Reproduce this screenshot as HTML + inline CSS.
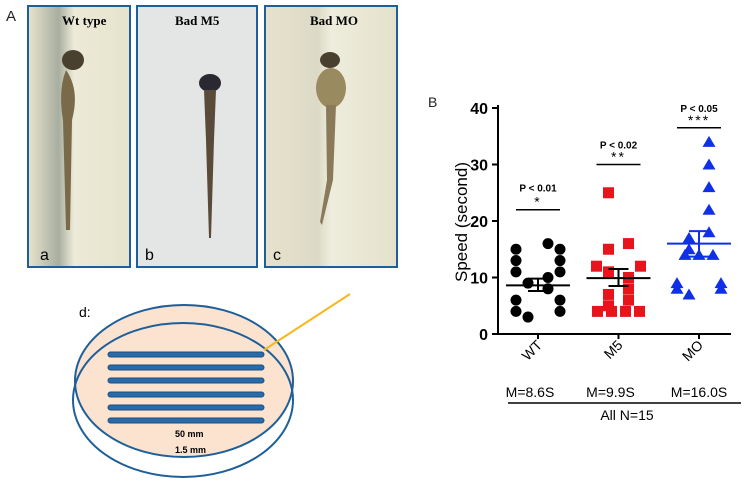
<!DOCTYPE html>
<html><head><meta charset="utf-8"><style>
body{margin:0;width:747px;height:486px;background:#fff;overflow:hidden;font-family:"Liberation Sans",sans-serif}
svg{position:absolute;left:0;top:0}
</style></head><body>
<svg width="747" height="486">
<defs>
<linearGradient id="ga" x1="0" x2="1"><stop offset="0" stop-color="#e8e4cc"/><stop offset="0.3" stop-color="#a8aea0"/><stop offset="0.45" stop-color="#ecead8"/><stop offset="1" stop-color="#e6e3cc"/></linearGradient>
<linearGradient id="gc" x1="0" x2="1"><stop offset="0" stop-color="#e6e2cc"/><stop offset="0.4" stop-color="#dcdac6"/><stop offset="0.5" stop-color="#eeecdc"/><stop offset="1" stop-color="#e4e2cc"/></linearGradient>
</defs>
<text x="6" y="21" font-size="15" fill="#222">A</text>
<g>
<rect x="28" y="6" width="102" height="261" fill="url(#ga)" stroke="#1f5f99" stroke-width="2"/>
<ellipse cx="73" cy="60" rx="11" ry="10" fill="#4a4030"/><path d="M66,70 Q80,90 72,120 L70,230 L66,230 L63,120 Q58,90 66,70Z" fill="#7a6a4a"/>
<text x="62" y="25" font-size="13" font-weight="bold" font-family="Liberation Serif,serif">Wt  type</text>
<text x="40" y="260" font-size="16">a</text></g>
<g>
<rect x="137" y="6" width="120" height="261" fill="#e4e6e6" stroke="#1f5f99" stroke-width="2"/>
<ellipse cx="210" cy="83" rx="11" ry="9" fill="#2a2830"/><path d="M204,90 L216,90 L214,140 L211,238 L209,238 L206,140Z" fill="#5a4a3a"/>
<text x="175" y="25" font-size="13" font-weight="bold" font-family="Liberation Serif,serif">Bad M5</text>
<text x="145" y="260" font-size="16">b</text></g>
<g>
<rect x="265" y="6" width="132" height="261" fill="url(#gc)" stroke="#1f5f99" stroke-width="2"/>
<ellipse cx="330" cy="60" rx="10" ry="8" fill="#4a4030"/><ellipse cx="331" cy="88" rx="15" ry="20" fill="#9a8a60"/><path d="M326,105 L336,105 L333,180 L322,225 L320,222 L327,180Z" fill="#8a7a5a"/>
<text x="310" y="25" font-size="13" font-weight="bold" font-family="Liberation Serif,serif">Bad MO</text>
<text x="273" y="260" font-size="16">c</text></g>
<g>
<ellipse cx="184" cy="381" rx="109" ry="76" fill="#fbe3d0" stroke="#1f5f99" stroke-width="2"/>
<ellipse cx="183" cy="400" rx="110" ry="77" fill="none" stroke="#1f5f99" stroke-width="2"/>
<g fill="#2a6aa8" stroke="#1a4f80" stroke-width="1">
<rect x="108" y="352" width="156" height="5" rx="2.5"/><rect x="108" y="365" width="156" height="5" rx="2.5"/><rect x="108" y="378" width="156" height="5" rx="2.5"/><rect x="108" y="392" width="156" height="5" rx="2.5"/><rect x="108" y="405" width="156" height="5" rx="2.5"/><rect x="108" y="418" width="156" height="5" rx="2.5"/></g>
<line x1="264" y1="350" x2="350" y2="294" stroke="#f5b820" stroke-width="2"/>
<text x="79" y="317" font-size="14">d:</text>
<text x="175" y="437" font-size="9" font-weight="bold">50 mm</text>
<text x="175" y="453" font-size="9" font-weight="bold">1.5 mm</text></g>
<text x="428" y="107" font-size="14" fill="#222">B</text>
<g id="chart"></g>
</svg>
<script>
const categories=["WT","M5","MO"];
const wtValues=[16,15,15,13,13,11,11,10,9,8,6,6,4,4,3];
const m5Values=[25,16,15,12,12,11,10,8,7,6,5,4,4,4,4];
const moValues=[34,30,26,22,18,17,15,14,14,14,9,9,8,8,7];
const means=[8.6,9.9,16.0];
const semLow=[7.6,8.5,13.7];
const semHigh=[9.8,11.5,18.2];
const pLabels=["P < 0.01","P < 0.02","P < 0.05"];
const stars=["*","**","***"];
const sigY=[22,30,36.5];
const meanLabels=["M=8.6S","M=9.9S","M=16.0S"];
const yTicks=[0,10,20,30,40];
const colors=["#000","#e8141c","#1030e8"];
const NS="http://www.w3.org/2000/svg";
const g=document.getElementById("chart");
const y=v=>334-v*5.65;
const x=i=>538+i*80.5;
function mk(t,a,p){const e=document.createElementNS(NS,t);for(const k in a)e.setAttribute(k,a[k]);(p||g).appendChild(e);return e;}
let ax=mk("line",{x1:498,y1:105,x2:498,y2:335,stroke:"#000","stroke-width":2});

let bx=mk("line",{x1:497,y1:334,x2:731,y2:334,stroke:"#000","stroke-width":2});

yTicks.forEach(t=>{mk("line",{x1:492,y1:y(t),x2:498,y2:y(t),stroke:"#000","stroke-width":2});
const tx=mk("text",{x:488,y:y(t)+6,"font-size":16,"font-weight":"bold","text-anchor":"end"});tx.textContent=t;
});
const yt=mk("text",{x:0,y:0,"font-size":17,"text-anchor":"middle",transform:"translate(467,222) rotate(-90)"});yt.textContent="Speed (second)";

const series=[wtValues,m5Values,moValues];
series.forEach((vals,i)=>{
 const cx=x(i);
 const bins={};vals.forEach(v=>{const k=Math.round(v);(bins[k]=bins[k]||[]).push(v);});
 Object.keys(bins).forEach(k=>{const arr=bins[k];const n=arr.length;arr.forEach((v,j)=>{
  let off;
  if(n===1)off=(k%2?-1:1)*10;
  else if(n===2)off=(j?1:-1)*22;
  else off=(j-(n-1)/2)*14;
  const px=cx+off,py=y(v);let m;
  if(i===0)m=mk("circle",{cx:px,cy:py,r:5.5,fill:colors[0]});
  else if(i===1)m=mk("rect",{x:px-5.5,y:py-5.5,width:11,height:11,fill:colors[1]});
  else m=mk("polygon",{points:`${px},${py-6} ${px+6.5},${py+5} ${px-6.5},${py+5}`,fill:colors[2]});
  });});
 const ml=mk("line",{x1:cx-32,x2:cx+32,y1:y(means[i]),y2:y(means[i]),stroke:i==2?colors[2]:"#000","stroke-width":2});
 
 const ec=i==2?colors[2]:"#000";
 mk("line",{x1:cx,x2:cx,y1:y(semLow[i]),y2:y(semHigh[i]),stroke:ec,"stroke-width":2});
 mk("line",{x1:cx-10,x2:cx+10,y1:y(semLow[i]),y2:y(semLow[i]),stroke:ec,"stroke-width":2});
 mk("line",{x1:cx-10,x2:cx+10,y1:y(semHigh[i]),y2:y(semHigh[i]),stroke:ec,"stroke-width":2});
 mk("line",{x1:cx-22,x2:cx+22,y1:y(sigY[i]),y2:y(sigY[i]),stroke:"#000","stroke-width":1.5});
 const st=mk("text",{x:cx,y:y(sigY[i])-3,"font-size":14,"text-anchor":"middle","letter-spacing":"2"});st.textContent=stars[i];
 
 const pl=mk("text",{x:cx,y:y(sigY[i])-(i==0?18:16),"font-size":10,"font-weight":"bold","text-anchor":"middle"});pl.textContent=pLabels[i];
 
 mk("line",{x1:cx,x2:cx,y1:334,y2:339,stroke:"#000","stroke-width":2});
 const cl=mk("text",{x:0,y:0,"font-size":14,"text-anchor":"end",transform:`translate(${cx+5},346) rotate(-45)`});cl.textContent=categories[i];
 
 const mt=mk("text",{x:cx+(i==2?0:-8),y:397,"font-size":14,"text-anchor":"middle"});mt.textContent=meanLabels[i];
 
});
mk("line",{x1:508,x2:741,y1:403,y2:403,stroke:"#000","stroke-width":1.5});
const nt=mk("text",{x:627,y:420,"font-size":14,"text-anchor":"middle"});nt.textContent="All N=15";

</script>
</body></html>
